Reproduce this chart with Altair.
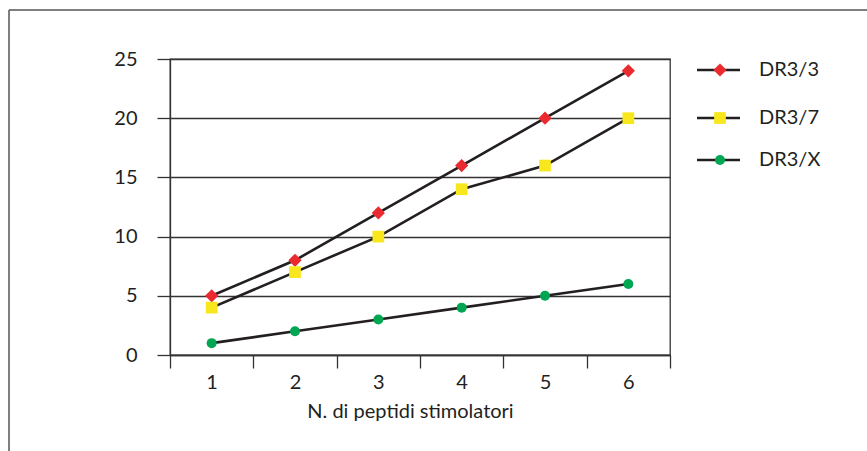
import altair as alt
import pandas as pd

categories = [1, 2, 3, 4, 5, 6]
series_names = ["DR3/3", "DR3/7", "DR3/X"]
dr3_3 = [5, 8, 12, 16, 20, 24]
dr3_7 = [4, 7, 10, 14, 16, 20]
dr3_x = [1, 2, 3, 4, 5, 6]
y_ticks = [0, 5, 10, 15, 20, 25]
x_title = "N. di peptidi stimolatori"

colors = ["#ea2a2e", "#f8e71c", "#00a651"]
shapes = ["diamond", "square", "circle"]
sizes = [175, 100, 140]
FONT = "Lato"
FS = 20
INK = "#231f20"

rows = []
for name, vals in zip(series_names, [dr3_3, dr3_7, dr3_x]):
    for c, v in zip(categories, vals):
        rows.append({"n": c, "value": v, "series": name})
df = pd.DataFrame(rows)

x = alt.X(
    "n:O",
    scale=alt.Scale(type="band", paddingInner=0, paddingOuter=0),
    axis=alt.Axis(
        title=x_title, labelAngle=0, tickBand="extent", tickSize=13, grid=False,
        labelFontSize=FS, titleFontSize=FS, labelFont=FONT, titleFont=FONT,
        labelColor=INK, titleColor=INK, titleFontWeight="normal",
        labelPadding=4, titlePadding=9, titleX=240, titleAlign="center",
        domainColor="#333", tickColor="#333",
        domainWidth=1.3, tickWidth=1.3,
    ),
)
y = alt.Y(
    "value:Q",
    scale=alt.Scale(domain=[0, 25], nice=False, zero=True),
    axis=alt.Axis(
        title=None, values=y_ticks, tickSize=13, grid=True, gridColor="#333",
        gridWidth=1.3, gridOpacity=1, labelFontSize=FS, labelFont=FONT,
        labelColor=INK, labelPadding=20, domainColor="#333", tickColor="#333",
        domainWidth=1.3, tickWidth=1.3,
    ),
)

shape_enc = alt.Shape("series:N", scale=alt.Scale(domain=series_names, range=shapes), legend=None)
color_enc = alt.Color("series:N", scale=alt.Scale(domain=series_names, range=colors), legend=None)
size_enc = alt.Size("series:N", scale=alt.Scale(domain=series_names, range=sizes), legend=None)

lines = alt.Chart(df).mark_line(color=INK, strokeWidth=2.6).encode(
    x=x, y=y, detail="series:N"
)
points = alt.Chart(df).mark_point(filled=True, opacity=1, strokeWidth=0).encode(
    x=x, y=y, shape=shape_enc, color=color_enc, size=size_enc
)
main = alt.layer(lines, points)

# custom legend (line + marker)
leg = pd.DataFrame({"series": series_names, "ly": [11, 59, 101]})
ly = alt.Y("ly:Q", scale=None, axis=None)
leg_rule = alt.Chart(leg).mark_rule(color=INK, strokeWidth=2.6).encode(
    x=alt.value(527), x2=alt.value(570), y=ly
)
leg_pts = alt.Chart(leg).mark_point(filled=True, opacity=1, strokeWidth=0).encode(
    x=alt.value(550), y=ly, shape=shape_enc, color=color_enc, size=size_enc
)
leg_txt = alt.Chart(leg).mark_text(
    align="left", baseline="middle", fontSize=FS, font=FONT, color=INK
).encode(x=alt.value(589), y=ly, text="series:N")

# outer frame (cropped box: top and left sides)
one = pd.DataFrame({"a": [0]})
frame_top = alt.Chart(one).mark_rule(color="#555", strokeWidth=1.5).encode(
    x=alt.value(-161), x2=alt.value(700), y=alt.value(-49)
)
frame_left = alt.Chart(one).mark_rule(color="#555", strokeWidth=1.5).encode(
    x=alt.value(-161), y=alt.value(-49), y2=alt.value(400)
)

deco = alt.layer(leg_rule, leg_pts, leg_txt, frame_top, frame_left)

chart = (
    alt.layer(main, deco)
    .resolve_scale(x="independent", y="independent")
    .properties(
        width=500,
        height=296,
        autosize=alt.AutoSizeParams(type="none"),
        padding={"left": 170, "top": 59, "right": 197, "bottom": 96},
        background="white",
    )
    .configure_view(stroke="#333", strokeWidth=1.3)
)

chart.save("out.html", embed_options={"renderer": "svg", "actions": False})
